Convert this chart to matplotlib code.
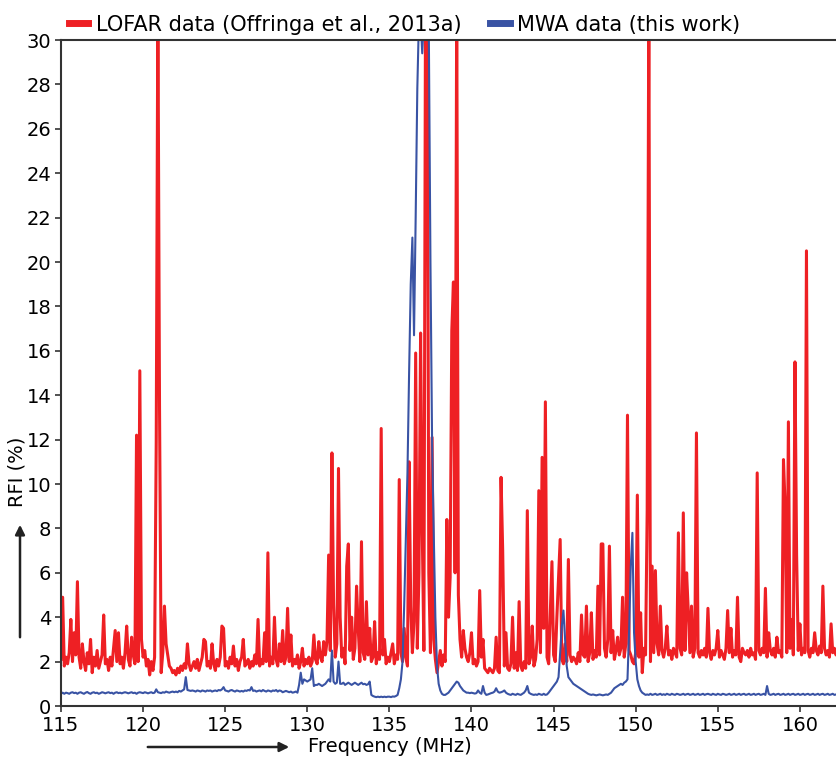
import numpy as np
import matplotlib
matplotlib.use("Agg")
import matplotlib.pyplot as plt

plt.rcParams['font.family'] = ['DejaVu Sans']

# frequency grid, 0.1 MHz channels starting at 115 MHz
freq = 115.0 + 0.1 * np.arange(480)

# LOFAR RFI occupancy (%)
lofar = [
    2.1, 4.9, 1.8, 2.2, 1.9, 2.4, 3.9, 2.0, 3.3, 2.3,
    5.6, 2.2, 1.7, 2.8, 2.0, 1.6, 2.4, 1.9, 3.0, 1.5,
    2.2, 1.8, 2.5, 1.7, 2.0, 2.3, 4.1, 1.9, 2.1, 1.6,
    2.2, 1.8, 2.6, 3.4, 2.0, 3.3, 1.9, 2.2, 1.7, 2.4,
    3.6, 2.1, 1.8, 3.1, 2.3, 1.9, 12.2, 2.0, 15.1, 3.0,
    2.2, 2.5, 1.8, 2.1, 1.4, 2.0, 1.6, 2.2, 11.9, 32.0,
    13.5, 1.5, 2.4, 4.5, 2.8, 2.3, 1.8, 1.7, 1.5, 1.6,
    1.4, 1.7, 1.5, 1.8, 1.6, 1.9, 1.7, 2.8, 1.9, 1.6,
    1.8, 2.0, 1.7, 2.1, 1.6, 1.9, 2.2, 3.0, 2.9, 1.8,
    2.0, 1.7, 2.8, 1.9, 1.6, 2.1, 1.8, 2.2, 3.6, 3.5,
    1.8, 2.0, 1.7, 2.2, 1.9, 2.7, 1.8, 2.1, 1.6, 2.0,
    2.2, 3.0, 1.8, 1.9, 2.1, 1.7, 2.0, 1.8, 2.3, 1.9,
    3.9, 1.8, 2.1, 1.9, 3.3, 2.0, 6.9, 1.8, 2.2, 1.9,
    4.0, 2.1, 1.8, 2.8, 2.0, 3.4, 1.9, 2.2, 4.4, 2.0,
    3.2, 1.8, 2.1, 1.9, 2.3, 1.7, 2.0, 2.6, 1.8, 2.1,
    1.9, 2.2, 1.8, 2.0, 3.2, 2.1, 1.9, 2.9, 2.2, 2.0,
    2.9, 2.3, 2.9, 6.8, 2.5, 11.4, 4.6, 2.2, 2.8, 10.7,
    4.0, 2.2, 2.6, 1.9, 6.3, 7.3, 2.5, 4.0, 2.1, 2.6,
    5.4, 3.5, 2.0, 7.4, 2.4, 2.1, 4.7, 2.3, 3.5, 2.0,
    2.2, 3.8, 1.9, 2.4, 2.1, 12.5, 2.3, 3.0, 1.9, 2.2,
    2.0, 2.4, 2.8, 1.9, 2.3, 2.1, 10.2, 2.4, 2.0, 3.5,
    2.2, 1.8, 11.0, 4.5, 2.4, 3.8, 15.9, 2.6, 6.0, 16.8,
    8.0, 2.5, 32.0, 32.0, 6.0, 2.4, 12.1, 3.0, 2.1, 1.5,
    2.0, 2.5, 1.8, 2.3, 2.0, 8.4, 4.0, 5.8, 16.9, 19.1,
    6.0, 32.0, 5.0, 3.0, 2.2, 3.4, 2.6, 2.2, 2.0, 2.4,
    3.3, 1.9, 2.1, 1.8, 2.0, 5.2, 2.2, 3.0, 1.7, 1.6,
    1.5, 1.7, 1.6, 1.5, 1.7, 3.1, 1.6, 1.5, 10.3, 7.0,
    1.8, 3.3, 1.7, 1.6, 1.9, 4.0, 1.7, 2.4, 1.6, 4.7,
    1.8, 1.6, 2.0, 1.7, 8.8, 1.9, 2.2, 3.6, 1.8, 2.1,
    3.0, 9.7, 2.4, 11.2, 3.5, 13.7, 2.2, 1.9, 4.2, 6.5,
    2.3, 2.0, 4.0, 5.8, 7.5, 2.1, 1.9, 2.8, 2.0, 6.6,
    2.3, 2.0, 2.2, 2.1, 1.9, 2.4, 2.0, 4.1, 2.3, 2.2,
    4.5, 2.0, 2.4, 4.2, 2.1, 2.5, 2.2, 5.4, 2.3, 7.3,
    7.3, 2.6, 2.2, 3.0, 7.2, 2.4, 3.4, 2.1, 2.5, 3.1,
    2.3, 2.6, 4.9, 2.2, 2.8, 13.1, 2.5, 2.3, 2.0, 1.9,
    2.4, 9.5, 2.2, 4.2, 1.5, 2.6, 2.3, 8.8, 32.0, 2.0,
    6.3, 2.4, 6.1, 2.8, 2.3, 4.5, 2.5, 2.2, 2.6, 3.6,
    2.3, 2.5, 2.1, 2.6, 2.4, 2.2, 7.8, 2.6, 2.3, 8.7,
    2.5, 6.0, 4.3, 2.4, 4.5, 2.2, 2.6, 12.3, 2.4, 2.2,
    2.5, 2.3, 2.6, 2.2, 4.4, 2.4, 2.1, 2.5, 2.3, 2.6,
    3.4, 2.2, 2.5, 2.3, 2.1, 2.6, 4.3, 2.4, 3.5, 2.2,
    2.5, 2.3, 4.9, 2.2, 2.0, 2.6, 2.4, 2.3, 2.5, 2.2,
    2.6, 2.3, 2.4, 2.1, 10.5, 2.5, 2.3, 2.6, 2.4, 5.3,
    2.2, 3.3, 2.5, 2.3, 2.6, 2.2, 3.1, 2.4, 2.5, 2.2,
    11.1, 9.0, 2.4, 12.8, 2.6, 3.9, 2.3, 15.5, 6.8, 2.5,
    3.7, 2.3, 2.6, 2.4, 20.5, 2.5, 2.2, 2.6, 2.4, 3.3,
    2.5, 2.3, 2.7, 2.4, 5.4, 2.6, 2.3, 2.5, 2.2, 3.7,
    2.4, 2.6, 2.3, 2.5, 2.4, 2.2, 2.6, 2.3, 2.5, 2.4,
]

# MWA RFI occupancy (%)
mwa = [
    0.55, 0.6, 0.55, 0.6, 0.58, 0.55, 0.6, 0.62, 0.58, 0.6,
    0.55, 0.6, 0.62, 0.58, 0.55, 0.6, 0.63, 0.58, 0.55, 0.6,
    0.62, 0.58, 0.6, 0.55, 0.58, 0.62, 0.6, 0.57, 0.6, 0.62,
    0.58, 0.6, 0.55, 0.6, 0.62, 0.58, 0.6, 0.57, 0.6, 0.62,
    0.6, 0.57, 0.6, 0.62, 0.58, 0.6, 0.55, 0.6, 0.62, 0.6,
    0.58, 0.62, 0.6, 0.57, 0.6, 0.62, 0.58, 0.6, 0.75, 0.62,
    0.6, 0.58, 0.62, 0.6, 0.65, 0.62, 0.6, 0.63, 0.65, 0.62,
    0.65, 0.62, 0.68, 0.65, 0.7, 0.75, 1.3, 0.72, 0.7, 0.68,
    0.7, 0.68, 0.65, 0.7, 0.68, 0.65, 0.7, 0.68, 0.65, 0.7,
    0.68, 0.7, 0.65, 0.68, 0.7, 0.67, 0.72, 0.7, 0.75, 0.85,
    0.7, 0.68, 0.65, 0.7, 0.72, 0.68, 0.65, 0.7, 0.68, 0.65,
    0.68, 0.65, 0.7, 0.68, 0.72, 0.7, 0.85, 0.68, 0.7, 0.65,
    0.68, 0.7, 0.66, 0.72, 0.68, 0.65, 0.7, 0.68, 0.65, 0.7,
    0.68, 0.72, 0.65, 0.7, 0.68, 0.62, 0.65, 0.68, 0.65, 0.62,
    0.65, 0.6, 0.62, 0.65, 0.6, 0.95, 1.5, 1.0, 1.2, 1.15,
    1.1, 1.15, 1.2, 1.7, 0.9, 0.95, 0.95, 1.0, 0.95, 0.9,
    0.95, 1.0, 1.1, 1.2, 1.1, 2.5, 1.1, 1.0, 1.05, 2.0,
    1.0, 1.0, 1.05, 0.95, 1.0, 1.05, 1.0, 0.95, 1.0, 1.05,
    1.0, 0.95, 1.0, 1.05, 0.98, 1.0, 0.95, 0.98, 1.1, 0.5,
    0.45, 0.42, 0.4, 0.42, 0.4, 0.42, 0.4, 0.42, 0.4, 0.42,
    0.42, 0.4, 0.43, 0.42, 0.45, 0.5, 0.8, 1.2, 2.0, 4.5,
    7.5, 10.5, 15.0, 19.0, 21.1, 16.7, 22.0, 27.8, 31.0, 31.0,
    29.4, 31.0, 31.0, 31.0, 30.5, 20.0, 11.9, 7.8, 4.0, 1.8,
    1.0, 0.7, 0.55, 0.5, 0.5, 0.55, 0.6, 0.7, 0.8, 0.9,
    1.0, 1.1, 1.05, 0.9, 0.8, 0.7, 0.65, 0.6, 0.6, 0.58,
    0.6, 0.58, 0.56, 0.58, 0.7, 0.6, 0.55, 0.9, 0.6, 0.5,
    0.52, 0.55, 0.58, 0.6, 0.65, 0.8, 0.65, 0.6, 0.62, 0.65,
    0.7, 0.6, 0.55, 0.52, 0.5, 0.55, 0.52, 0.5, 0.55, 0.52,
    0.5, 0.55, 0.6, 0.7, 0.9, 0.6, 0.55, 0.52, 0.5, 0.52,
    0.5, 0.55, 0.52, 0.5, 0.55, 0.5, 0.52, 0.6, 0.7, 0.8,
    0.9, 1.0, 1.1, 1.3, 2.4, 3.6, 4.3, 3.0, 1.8, 1.3,
    1.2, 1.1, 1.0, 0.95, 0.9, 0.85, 0.8, 0.75, 0.7, 0.65,
    0.6, 0.55, 0.52, 0.5, 0.52, 0.5, 0.48, 0.5, 0.52, 0.5,
    0.48, 0.5, 0.52, 0.5, 0.55, 0.6, 0.7, 0.8, 0.85, 0.9,
    0.95, 1.0, 0.95, 1.05, 1.1, 1.2, 3.4, 6.3, 7.8, 3.3,
    2.0, 1.2, 0.9, 0.7, 0.6, 0.55, 0.5, 0.52, 0.5, 0.55,
    0.5, 0.52, 0.55, 0.5, 0.52, 0.55, 0.5, 0.53, 0.5, 0.55,
    0.52, 0.5, 0.55, 0.52, 0.5, 0.55, 0.53, 0.5, 0.52, 0.55,
    0.5, 0.53, 0.55, 0.5, 0.52, 0.55, 0.5, 0.52, 0.55, 0.5,
    0.52, 0.55, 0.5, 0.53, 0.55, 0.52, 0.5, 0.55, 0.52, 0.5,
    0.55, 0.52, 0.5, 0.55, 0.53, 0.5, 0.52, 0.55, 0.5, 0.52,
    0.55, 0.5, 0.52, 0.55, 0.5, 0.53, 0.55, 0.5, 0.52, 0.55,
    0.5, 0.52, 0.55, 0.5, 0.53, 0.55, 0.5, 0.52, 0.55, 0.5,
    0.9, 0.55, 0.5, 0.52, 0.55, 0.5, 0.53, 0.55, 0.5, 0.52,
    0.55, 0.5, 0.52, 0.55, 0.5, 0.53, 0.55, 0.5, 0.52, 0.55,
    0.5, 0.52, 0.55, 0.5, 0.53, 0.55, 0.5, 0.52, 0.55, 0.5,
    0.52, 0.55, 0.5, 0.53, 0.55, 0.5, 0.52, 0.55, 0.5, 0.52,
    0.55, 0.5, 0.52, 0.55, 0.5, 0.53, 0.55, 0.5, 0.52, 0.55,
]

red = '#ee2024'
blue = '#3953a4'

fig = plt.figure(figsize=(8.37, 7.59), dpi=100)
ax = fig.add_axes([61 / 837, 53 / 759, 1 - 61 / 837, 666 / 759])

ax.plot(freq, lofar, color=red, lw=2.2, label='LOFAR data (Offringa et al., 2013a)')
ax.plot(freq, mwa, color=blue, lw=1.5, label='MWA data (this work)')

ax.set_xlim(115, 162.26)
ax.set_ylim(0, 30)
ax.set_xticks(np.arange(115, 161, 5))
ax.set_yticks(np.arange(0, 31, 2))
ax.tick_params(labelsize=14, length=4, width=1.2, color='#333333', pad=3)
ax.spines['right'].set_visible(False)
for s in ['left', 'top', 'bottom']:
    ax.spines[s].set_linewidth(1.5)
    ax.spines[s].set_color('#333333')

leg = ax.legend(loc='lower left', bbox_to_anchor=(0.003, 1.0), ncol=2, frameon=False,
                fontsize=15, handlelength=0.95, handletextpad=0.35, columnspacing=1.4,
                borderaxespad=0.0, borderpad=0.25)
for h in leg.legend_handles:
    h.set_linewidth(5)

fig.text(390 / 837, 1 - 747 / 759, 'Frequency (MHz)', ha='center', va='center', fontsize=14)
fig.text(17 / 837, 1 - 472 / 759, 'RFI (%)', ha='center', va='center', rotation=90, fontsize=14)
fig.add_artist(matplotlib.patches.FancyArrowPatch(
    (145 / 837, 1 - 747 / 759), (292 / 837, 1 - 747 / 759), transform=fig.transFigure,
    arrowstyle='-|>', mutation_scale=14, lw=1.8, color='#222222'))
fig.add_artist(matplotlib.patches.FancyArrowPatch(
    (20 / 837, 1 - 640 / 759), (20 / 837, 1 - 522 / 759), transform=fig.transFigure,
    arrowstyle='-|>', mutation_scale=14, lw=1.8, color='#222222'))

fig.savefig('out.png', dpi=100)
